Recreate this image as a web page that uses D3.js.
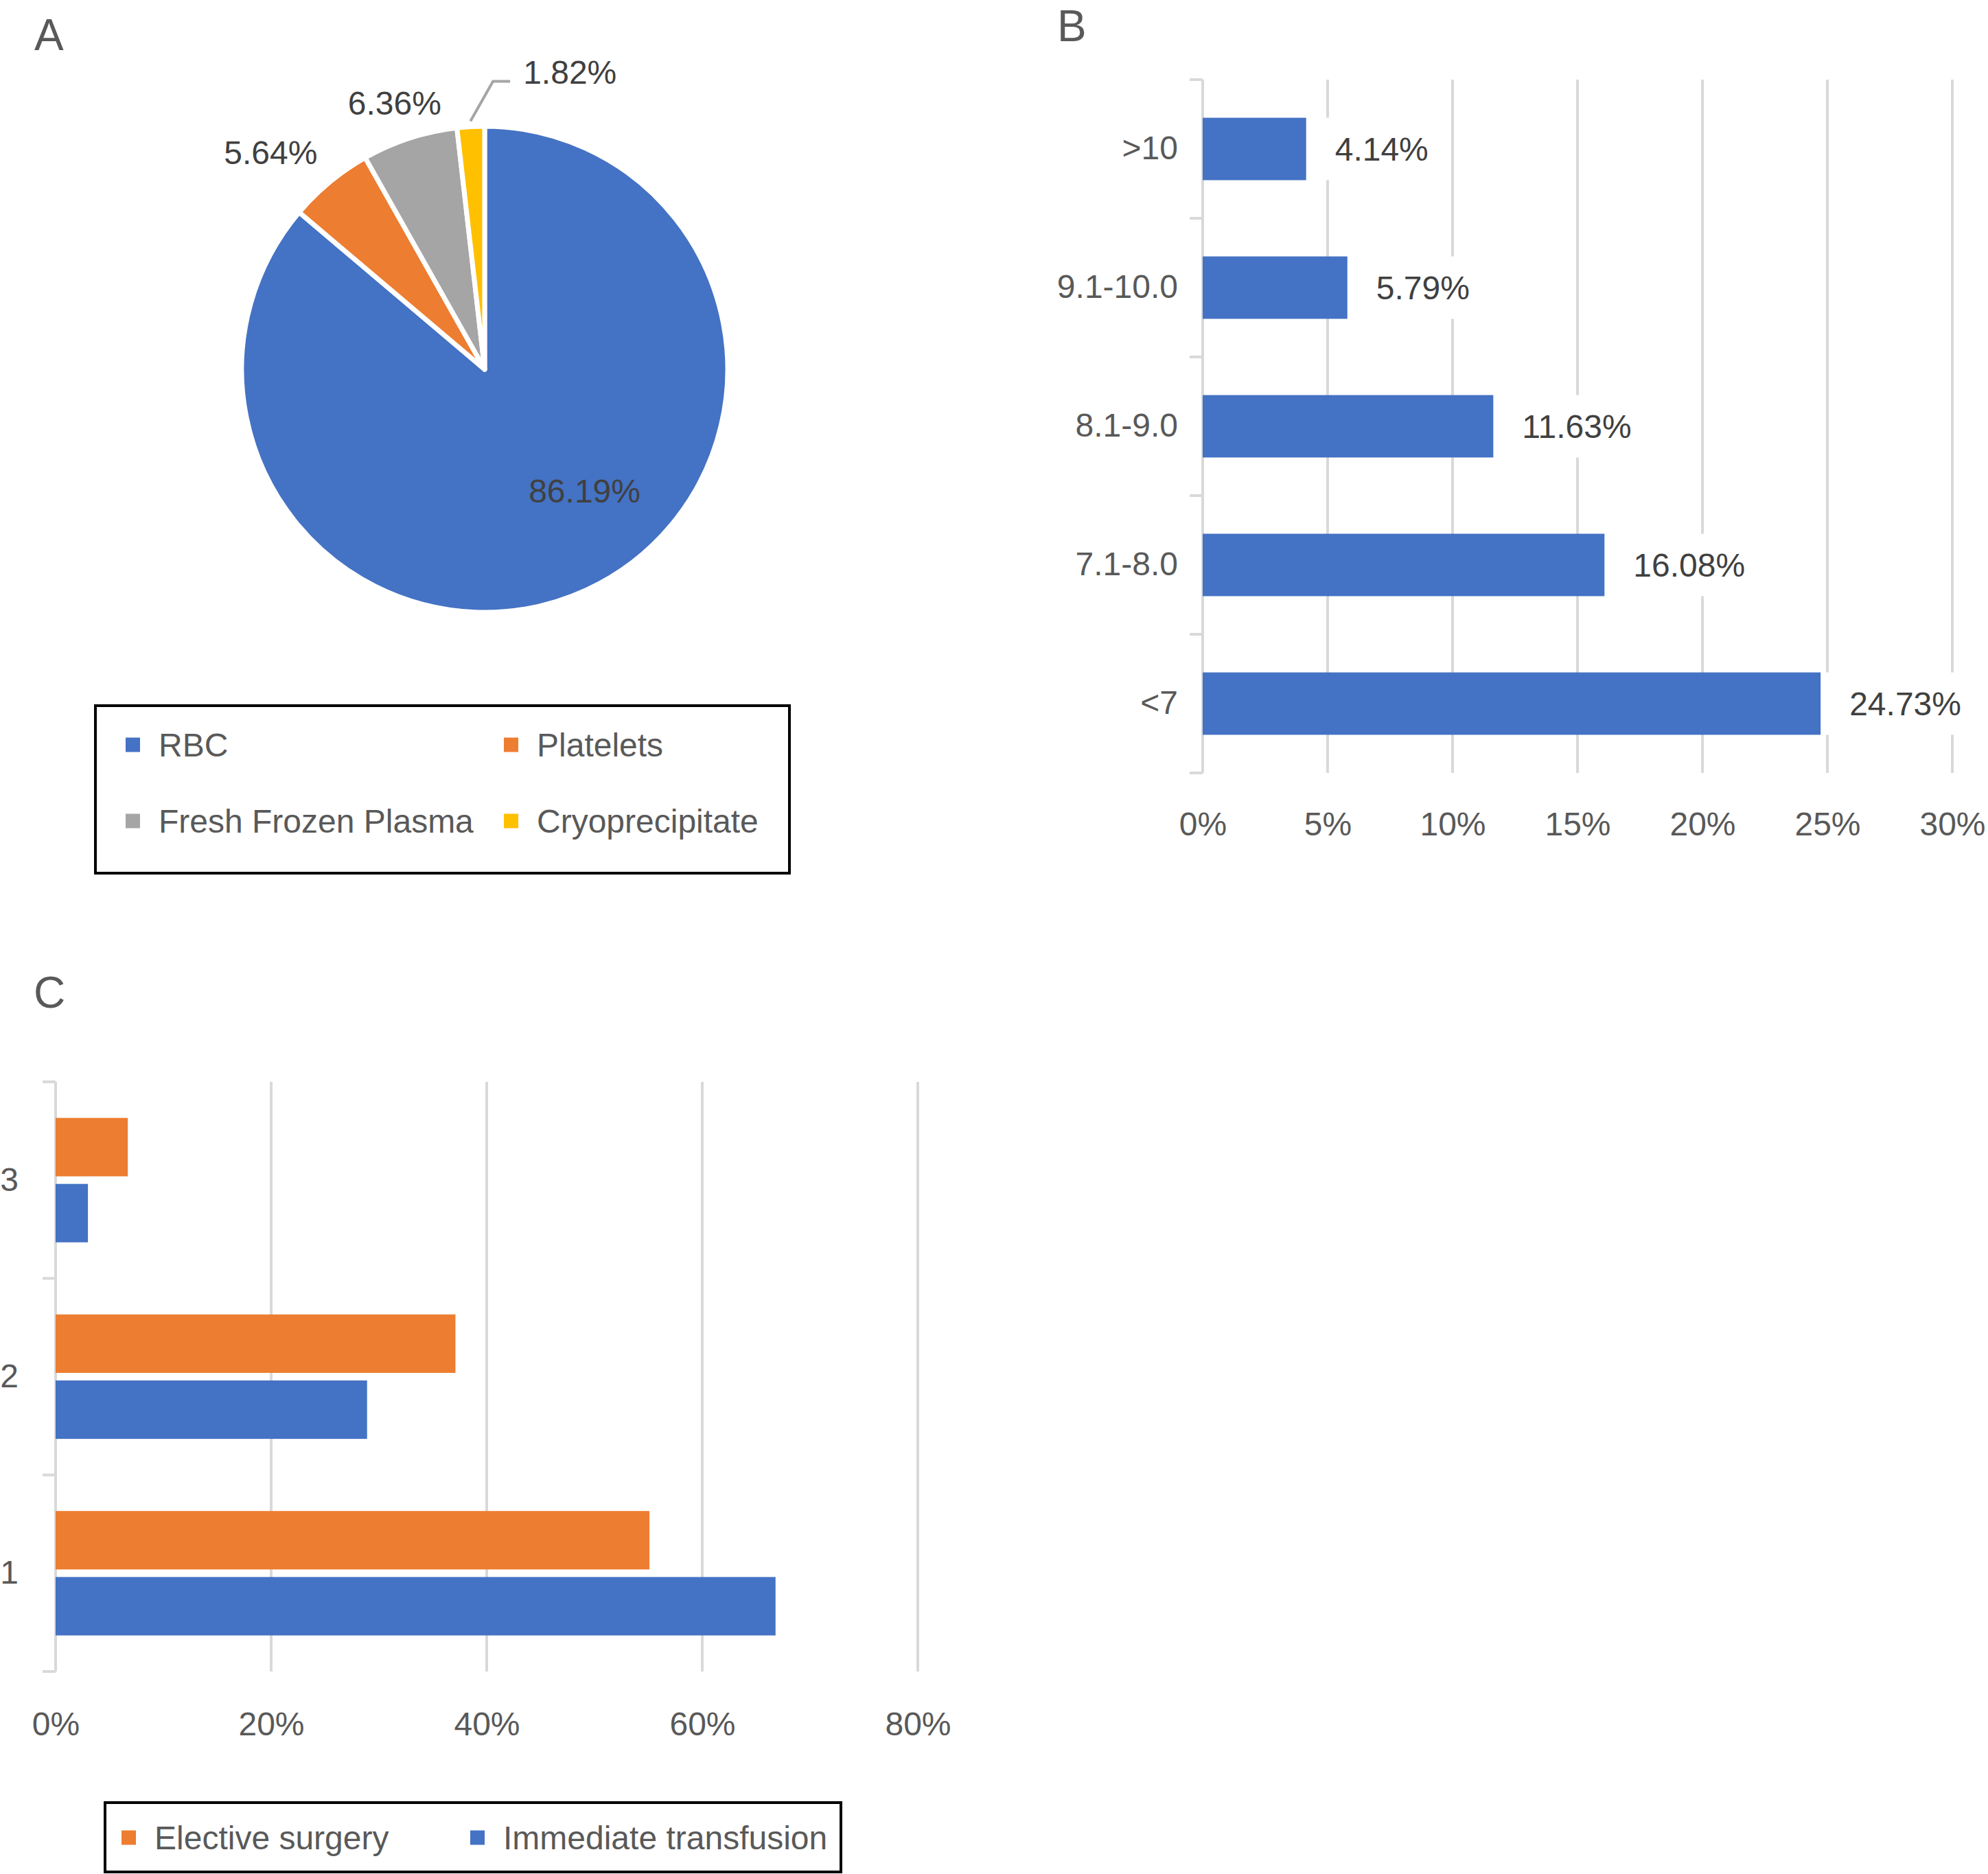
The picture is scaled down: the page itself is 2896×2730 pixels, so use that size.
<!DOCTYPE html>
<html>
<head>
<meta charset="utf-8">
<script src="https://cdn.jsdelivr.net/npm/d3@7"></script>
<style>
  body { margin: 0; background: #fff; }
  text { font-family: "Liberation Sans", Arial, Helvetica, sans-serif; }
</style>
</head>
<body>
<div id="viz"></div>
<script>
// panel A - blood components
var components = ["RBC", "Platelets", "Fresh Frozen Plasma", "Cryoprecipitate"];
var componentShare = [86.19, 5.64, 6.36, 1.82];
var componentColors = ["#4472C4", "#ED7D31", "#A5A5A5", "#FFC000"];

// panel B - haemoglobin groups
var hbGroups = [">10", "9.1-10.0", "8.1-9.0", "7.1-8.0", "<7"];
var hbShare = [4.14, 5.79, 11.63, 16.08, 24.73];
var hbTicks = [0, 5, 10, 15, 20, 25, 30];

// panel C - units per episode
var unitGroups = ["3", "2", "1"];
var seriesNames = ["Elective surgery", "Immediate transfusion"];
var electiveShare = { "1": 55.1, "2": 37.1, "3": 6.7 };
var immediateShare = { "1": 66.8, "2": 28.9, "3": 3.0 };
var seriesColors = ["#ED7D31", "#4472C4"];
var unitTicks = [0, 20, 40, 60, 80];

var width = 2896;
var height = 2730;
var fs = 48;
var axisText = "#595959";
var labelText = "#404040";
var gridColor = "#D9D9D9";

var svg = d3.select("#viz")
    .append("svg")
    .attr("width", width)
    .attr("height", height)
    .style("background", "#fff");

// panel letters
[["A", 50, 73], ["B", 1540, 60], ["C", 49, 1468]].forEach(function(p) {
  svg.append("text")
      .attr("x", p[1]).attr("y", p[2])
      .attr("font-size", 64)
      .attr("fill", axisText)
      .text(p[0]);
});

// ---------- A: pie ----------
var cx = 706, cy = 538, R = 354;
var pie = d3.pie().sort(null).value(function(d) { return d; })(componentShare);
var arc = d3.arc().innerRadius(0).outerRadius(R);

var gA = svg.append("g").attr("transform", "translate(" + cx + "," + cy + ")");
gA.selectAll("path")
    .data(pie)
    .enter()
    .append("path")
    .attr("d", arc)
    .attr("fill", function(d, i) { return componentColors[i]; })
    .attr("stroke", "white")
    .attr("stroke-width", 7)
    .attr("stroke-linejoin", "round");

// label placement relative to slice mid angle (deg offset, radius)
var labelPlace = [{ da: -14.6, r: 229 }, { da: -5, r: 444 }, { da: -0.7, r: 409 }, { da: 19.3, r: 450 }];
pie.forEach(function(d, i) {
  var mid = (d.startAngle + d.endAngle) / 2;
  var a = mid + labelPlace[i].da * Math.PI / 180;
  var lx = Math.sin(a) * labelPlace[i].r;
  var ly = -Math.cos(a) * labelPlace[i].r;
  var t = gA.append("text")
      .attr("x", lx).attr("y", ly)
      .attr("dy", "0.35em")
      .attr("text-anchor", "middle")
      .attr("font-size", fs)
      .attr("fill", labelText)
      .text(componentShare[i].toFixed(2) + "%");
  if (i === 3) {
    var w = t.node().getComputedTextLength();
    var sx = Math.sin(mid) * (R + 8), sy = -Math.cos(mid) * (R + 8);
    var x0 = lx - w / 2;
    gA.append("polyline")
        .attr("points", [[sx, sy], [x0 - 44, ly + 13], [x0 - 19, ly + 13]].join(" "))
        .attr("fill", "none")
        .attr("stroke", "#A5A5A5")
        .attr("stroke-width", 4);
  }
});

// legend A
svg.append("rect")
    .attr("x", 139).attr("y", 1028)
    .attr("width", 1011).attr("height", 244)
    .attr("fill", "none").attr("stroke", "#000").attr("stroke-width", 4);
var legA = svg.selectAll("g.legA")
    .data(components)
    .enter()
    .append("g")
    .attr("class", "legA")
    .attr("transform", function(d, i) {
      return "translate(" + (i % 2 ? 734 : 183) + "," + (i < 2 ? 1085 : 1196) + ")";
    });
legA.append("rect")
    .attr("x", 0).attr("y", -10.5).attr("width", 21).attr("height", 21)
    .attr("fill", function(d, i) { return componentColors[i]; });
legA.append("text")
    .attr("x", 48).attr("dy", "0.35em")
    .attr("font-size", fs).attr("fill", axisText)
    .text(function(d) { return d; });

// ---------- B: horizontal bars ----------
var xB = d3.scaleLinear().domain([0, 30]).range([1752, 2844]);
var yB = d3.scaleBand().domain(hbGroups).range([116, 1126]).paddingInner(0.55).paddingOuter(0.275);
var gB = svg.append("g");

gB.selectAll("line.grid")
    .data(hbTicks.slice(1))
    .enter()
    .append("line")
    .attr("x1", xB).attr("x2", xB)
    .attr("y1", 116).attr("y2", 1126)
    .attr("stroke", gridColor).attr("stroke-width", 4);

gB.append("line")
    .attr("x1", xB(0)).attr("x2", xB(0))
    .attr("y1", 116).attr("y2", 1126)
    .attr("stroke", gridColor).attr("stroke-width", 4);
gB.selectAll("line.tick")
    .data(d3.range(hbGroups.length + 1))
    .enter()
    .append("line")
    .attr("x1", xB(0) - 19).attr("x2", xB(0))
    .attr("y1", function(i) { return 116 + i * yB.step(); })
    .attr("y2", function(i) { return 116 + i * yB.step(); })
    .attr("stroke", gridColor).attr("stroke-width", 4);

gB.selectAll("rect.bar")
    .data(hbGroups)
    .enter()
    .append("rect")
    .attr("x", xB(0))
    .attr("y", function(d) { return yB(d); })
    .attr("width", function(d, i) { return xB(hbShare[i]) - xB(0); })
    .attr("height", yB.bandwidth())
    .attr("fill", "#4472C4");

hbGroups.forEach(function(d, i) {
  var bx = xB(hbShare[i]);
  var bg = gB.append("rect")
      .attr("x", bx + 4).attr("y", yB(d))
      .attr("height", yB.bandwidth())
      .attr("fill", "#fff");
  var t = gB.append("text")
      .attr("x", bx + 42)
      .attr("y", yB(d) + yB.bandwidth() / 2)
      .attr("dy", "0.35em")
      .attr("font-size", fs).attr("fill", labelText)
      .text(hbShare[i].toFixed(2) + "%");
  bg.attr("width", 42 + t.node().getComputedTextLength());
});

var axB = gB.append("g")
    .attr("transform", "translate(0,1200)")
    .call(d3.axisBottom(xB).tickValues(hbTicks).tickSize(0).tickPadding(0)
      .tickFormat(function(d) { return d + "%"; }));
axB.select(".domain").remove();
axB.selectAll("text").attr("dy", "0.35em").attr("y", 0)
    .attr("font-size", fs).attr("fill", axisText).attr("font-family", null);

var ayB = gB.append("g")
    .attr("transform", "translate(1716,0)")
    .call(d3.axisLeft(yB).tickSize(0).tickPadding(0));
ayB.select(".domain").remove();
ayB.selectAll("text").attr("font-size", fs).attr("fill", axisText).attr("font-family", null);

// ---------- C: grouped bars ----------
var xC = d3.scaleLinear().domain([0, 80]).range([81, 1337]);
var yC = d3.scaleBand().domain(unitGroups).range([1576, 2435]).paddingInner(0.367).paddingOuter(0.1835);
var ySub = d3.scaleBand().domain(seriesNames).range([0, yC.bandwidth()]).paddingInner(0.115);
var gC = svg.append("g");

gC.selectAll("line.grid")
    .data(unitTicks.slice(1))
    .enter()
    .append("line")
    .attr("x1", xC).attr("x2", xC)
    .attr("y1", 1576).attr("y2", 2435)
    .attr("stroke", gridColor).attr("stroke-width", 4);
gC.append("line")
    .attr("x1", xC(0)).attr("x2", xC(0))
    .attr("y1", 1576).attr("y2", 2435)
    .attr("stroke", gridColor).attr("stroke-width", 4);
gC.selectAll("line.tick")
    .data(d3.range(unitGroups.length + 1))
    .enter()
    .append("line")
    .attr("x1", xC(0) - 19).attr("x2", xC(0))
    .attr("y1", function(i) { return 1576 + i * yC.step(); })
    .attr("y2", function(i) { return 1576 + i * yC.step(); })
    .attr("stroke", gridColor).attr("stroke-width", 4);

var series = [electiveShare, immediateShare];
var groups = gC.selectAll("g.grp")
    .data(unitGroups)
    .enter()
    .append("g")
    .attr("class", "grp")
    .attr("transform", function(d) { return "translate(0," + yC(d) + ")"; });
groups.selectAll("rect")
    .data(function(g) { return seriesNames.map(function(s, k) { return { s: s, v: series[k][g], k: k }; }); })
    .enter()
    .append("rect")
    .attr("x", xC(0))
    .attr("y", function(d) { return ySub(d.s); })
    .attr("width", function(d) { return xC(d.v) - xC(0); })
    .attr("height", ySub.bandwidth())
    .attr("fill", function(d) { return seriesColors[d.k]; });

var axC = gC.append("g")
    .attr("transform", "translate(0,2511)")
    .call(d3.axisBottom(xC).tickValues(unitTicks).tickSize(0).tickPadding(0)
      .tickFormat(function(d) { return d + "%"; }));
axC.select(".domain").remove();
axC.selectAll("text").attr("dy", "0.35em").attr("y", 0)
    .attr("font-size", fs).attr("fill", axisText).attr("font-family", null);

var ayC = gC.append("g")
    .attr("transform", "translate(27,0)")
    .call(d3.axisLeft(yC).tickSize(0).tickPadding(0));
ayC.select(".domain").remove();
ayC.selectAll("text").attr("font-size", fs).attr("fill", axisText).attr("font-family", null);

// legend C
svg.append("rect")
    .attr("x", 153).attr("y", 2626)
    .attr("width", 1072).attr("height", 101)
    .attr("fill", "none").attr("stroke", "#000").attr("stroke-width", 4);
var legC = svg.selectAll("g.legC")
    .data(seriesNames)
    .enter()
    .append("g")
    .attr("class", "legC")
    .attr("transform", function(d, i) { return "translate(" + (i ? 685 : 177) + ",2677)"; });
legC.append("rect")
    .attr("x", 0).attr("y", -10.5).attr("width", 21).attr("height", 21)
    .attr("fill", function(d, i) { return seriesColors[i]; });
legC.append("text")
    .attr("x", 48).attr("dy", "0.35em")
    .attr("font-size", fs).attr("fill", axisText)
    .text(function(d) { return d; });
</script>
</body>
</html>
